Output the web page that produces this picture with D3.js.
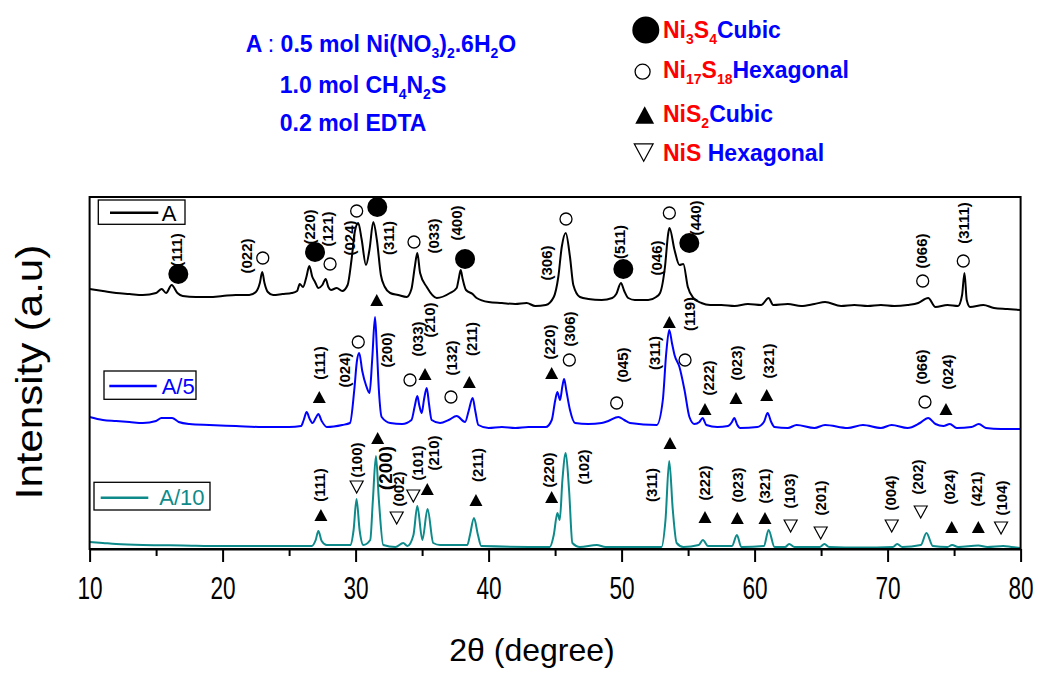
<!DOCTYPE html>
<html>
<head>
<meta charset="utf-8">
<script src="https://cdn.jsdelivr.net/npm/d3@7"></script>
<style>
  body { margin: 0; background: #fff; }
  svg { display: block; font-family: "Liberation Sans", Arial, sans-serif; }
</style>
</head>
<body>
<div id="graph-container"></div>
<script>
// XRD patterns, [2theta, intensity (a.u., stacked)]
const seriesA = [[10,260],[11,258],[12,256],[13,255],[14,254],[15,256],[15.42,260],[15.75,256],[16.17,264],[16.6,256],[17,253],[18,252],[19,252],[20,253],[21,254],[22,254],[22.5,257],[22.8,266],[22.98,277],[23.15,266],[23.4,257],[23.8,254],[24.5,255],[25.2,256],[25.6,258],[25.8,265],[26.05,262],[26.3,272],[26.52,283],[26.75,272],[26.95,267],[27.2,261],[27.5,264],[27.75,270],[27.95,262],[28.15,259],[28.58,261],[29.0,258],[29.4,264],[29.7,290],[29.95,318],[30.2,326],[30.45,310],[30.78,284],[31.05,300],[31.33,327],[31.6,309],[31.9,274],[32.2,262],[32.6,256],[33.2,254],[33.84,252],[34.2,260],[34.45,282],[34.64,296],[34.85,276],[35.35,262],[36.1,251],[37.1,256],[37.6,261],[37.75,270],[37.9,279],[38.05,270],[38.3,259],[38.8,255],[39.1,251],[40,247],[41,246],[42,245],[42.86,246],[43.5,243],[44.3,244],[44.9,252],[45.24,272],[45.5,302],[45.8,316],[46.12,292],[46.37,264],[46.87,252],[47.5,250],[48.5,249],[49.3,251],[49.6,255],[49.95,266],[50.2,258],[50.5,251],[51,249],[52,249],[52.6,252],[52.89,256],[53.26,282],[53.51,316],[53.6,321],[53.98,299],[54.35,284],[54.64,285],[54.98,262],[55.39,251],[56,246],[56.65,244],[57.5,244],[58.5,243],[59.5,245],[60.5,244],[61.05,251],[61.4,244],[62.5,245],[63.5,243],[64.5,245],[65.3,247],[66.5,243],[67.5,244],[68.5,243],[69.5,244],[70.5,243],[71.5,244],[72.3,246],[73.05,251],[73.6,242],[74.5,244],[75.3,243],[75.6,254],[75.78,276],[75.95,249],[76.2,242],[77.2,244],[78,241],[79,240],[80,239]];

const seriesA5 = [[10,132],[11,129],[12,128],[13,127],[14,126],[15,128],[15.4,131],[16.2,131],[16.7,127],[17.5,125],[19,124],[21,123],[23,122],[25,122],[25.9,123],[26.1,129],[26.32,137],[26.55,130],[26.77,126],[27.0,131],[27.2,135],[27.45,128],[27.83,122],[29.0,124],[29.58,126],[29.9,159],[30.1,188],[30.27,196],[30.5,178],[30.8,163],[31.05,156],[31.25,190],[31.46,232],[31.6,200],[31.75,159],[31.96,132],[32.6,126],[33.5,125],[34.2,129],[34.45,143],[34.64,153],[34.8,143],[34.97,136],[35.15,150],[35.35,161],[35.52,145],[35.72,129],[36.35,126],[37.0,129],[37.6,133],[38.23,127],[38.5,138],[38.8,151],[39.0,138],[39.23,124],[40,121],[41,122],[42,121],[43,122],[44.3,122],[44.75,129],[45.0,148],[45.17,157],[45.37,149],[45.55,163],[45.68,170],[45.85,158],[46.12,139],[46.5,126],[47.5,125],[48.5,126],[49.0,128],[49.76,132],[50.2,129],[50.63,126],[52.64,124],[53.1,149],[53.35,195],[53.58,219],[53.8,205],[53.98,194],[54.35,182],[54.73,159],[55.1,132],[55.48,125],[55.85,127],[56.09,131],[56.37,124],[57.2,122],[58.0,123],[58.3,127],[58.47,131],[58.7,124],[58.9,121],[60.2,122],[60.7,127],[60.98,136],[61.25,127],[61.5,122],[62.5,121],[63.16,124],[64.5,121],[65.3,124],[67,121],[68.15,124],[69.5,121],[70.3,124],[71.5,121],[72.43,126],[73.05,131],[73.6,125],[74.2,123],[74.68,125],[75.2,121],[76.3,122],[76.86,125],[77.4,121],[78.5,120],[80,120]];

const seriesA10 = [[10,7],[11,6],[12,5],[14,4],[17,3.5],[20,3],[24,3],[26.7,3],[27.0,9],[27.2,18],[27.45,8],[27.83,4],[29.6,4],[29.85,19],[30.07,50],[30.3,19],[30.58,4],[31.1,9],[31.3,49],[31.53,93],[31.75,49],[32.08,4],[33.0,2],[33.58,6],[33.9,3],[34.35,14],[34.64,43],[35.02,9],[35.41,40],[35.84,6],[36.35,4],[38.4,4],[38.6,14],[38.9,31],[39.2,14],[39.45,3],[44.6,2],[44.9,14],[45.17,36],[45.35,29],[45.55,69],[45.8,96],[46.05,59],[46.3,6],[46.87,2],[48.13,4],[48.8,2],[53.0,2],[53.3,29],[53.58,88],[53.85,39],[54.14,6],[54.64,2],[55.8,4],[56.11,9],[56.5,3],[58.3,3],[58.67,14],[59.0,2],[60.7,3],[61.05,19],[61.5,2],[62.3,2],[62.6,5],[63.0,2],[64.9,2],[65.25,5],[65.6,2],[68,1.5],[70.4,2],[70.72,5],[71.1,2],[72.5,4],[72.92,16],[73.4,3],[74.5,2],[74.85,4],[75.3,2],[76.82,3.5],[77.5,2],[78.7,3],[79.3,2],[80,1]];

// phase markers: [2theta, level, phase]
const markA = [[16.67,275,"Ni3S4"],[26.95,297,"Ni3S4"],[31.63,342,"Ni3S4"],[38.23,290,"Ni3S4"],[50.13,280,"Ni3S4"],[55.09,306,"Ni3S4"],
  [23.02,291,"Ni17S18"],[28.08,285,"Ni17S18"],[30.08,338,"Ni17S18"],[34.39,307,"Ni17S18"],[45.82,330,"Ni17S18"],[53.59,336,"Ni17S18"],[72.64,268,"Ni17S18"],[75.69,288,"Ni17S18"]];
const markA5 = [[31.59,249,"NiS2"],[27.27,152,"NiS2"],[35.22,175,"NiS2"],[38.55,167,"NiS2"],[44.74,176,"NiS2"],[53.59,227,"NiS2"],[56.27,140,"NiS2"],[58.6,151,"NiS2"],[60.91,154,"NiS2"],[74.39,140,"NiS2"],
  [30.2,207,"Ni17S18"],[34.09,169,"Ni17S18"],[37.17,152,"Ni17S18"],[46.07,189,"Ni17S18"],[49.63,146,"Ni17S18"],[54.77,189,"Ni17S18"],[72.81,147,"Ni17S18"]];
const markA10 = [[27.39,34,"NiS2"],[31.66,111,"NiS2"],[35.39,60,"NiS2"],[39.05,49,"NiS2"],[44.74,52,"NiS2"],[53.64,106,"NiS2"],[56.27,32,"NiS2"],[58.7,31,"NiS2"],[60.78,31,"NiS2"],[74.82,22,"NiS2"],[76.82,22,"NiS2"],
  [30.08,62,"NiS"],[33.09,31,"NiS"],[34.34,53,"NiS"],[62.71,23,"NiS"],[64.97,16,"NiS"],[70.31,23,"NiS"],[72.49,37,"NiS"],[78.53,21,"NiS"]];

// (hkl) labels: [2theta, level, text]
const hklA = [[16.55,299,"(111)"],[21.81,293,"(022)"],[26.52,322,"(220)"],[27.87,320,"(121)"],[29.53,311,"(024)"],[32.53,311,"(311)"],[35.84,313,"(033)"],[37.6,326,"(400)"],[44.37,286,"(306)"],[49.88,307,"(511)"],[52.64,291,"(046)"],[55.59,331,"(440)"],[72.56,298,"(066)"],[75.69,326,"(3111)"]];
const hklA5 = [[27.32,186,"(111)"],[29.2,179,"(024)"],[32.34,199,"(200)"],[34.71,210,"(033)"],[35.54,229,"(210)"],[37.23,191,"(132)"],[38.73,210,"(211)"],[44.62,207,"(220)"],[46.12,220,"(306)"],[50.08,184,"(045)"],[52.51,196,"(311)"],[55.11,235,"(119)"],[56.52,171,"(222)"],[58.65,186,"(023)"],[61.1,188,"(321)"],[72.56,182,"(066)"],[74.56,177,"(024)"]];
const hklA10 = [[27.32,64,"(111)"],[30.08,89,"(100)"],[32.21,81,"(200)"],[33.21,60,"(002)"],[34.71,86,"(101)"],[35.84,96,"(210)"],[39.15,84,"(211)"],[44.56,79,"(220)"],[47.12,82,"(102)"],[52.26,64,"(311)"],[56.27,66,"(222)"],[58.77,64,"(023)"],[60.78,63,"(321)"],[62.61,58,"(103)"],[64.97,51,"(201)"],[70.23,56,"(004)"],[72.23,72,"(202)"],[74.69,62,"(024)"],[76.7,60,"(421)"],[78.58,51,"(104)"]];

const xTicks = [10, 20, 30, 40, 50, 60, 70, 80];
const xMinorTicks = [15, 25, 35, 45, 55, 65, 75];

// Set up SVG canvas
const svgWidth = 1038;
const svgHeight = 673;
const margin = { top: 197, right: 17.4, bottom: 124, left: 89.6 };
const width = svgWidth - margin.left - margin.right;
const height = svgHeight - margin.top - margin.bottom;

const BLUE = "#0000ff", RED = "#ff0000", TEAL = "#0e8a8a";

const svg = d3.select("#graph-container").append("svg")
    .attr("width", svgWidth)
    .attr("height", svgHeight);

svg.append("rect").attr("width", svgWidth).attr("height", svgHeight).attr("fill", "#fff");

const g = svg.append("g")
    .attr("transform", `translate(${margin.left}, ${margin.top})`);

const x = d3.scaleLinear().domain([10, 80]).range([0, width]);
const y = d3.scaleLinear().domain([0, 352]).range([height, 0]);

// traces
const line = d3.line()
    .x(d => x(d[0]))
    .y(d => y(d[1]))
    .curve(d3.curveMonotoneX);

[[seriesA, "#000"], [seriesA5, BLUE], [seriesA10, TEAL]].forEach(([data, color]) => {
    g.append("path")
        .datum(data)
        .attr("fill", "none")
        .attr("stroke", color)
        .attr("stroke-width", 2)
        .attr("stroke-linejoin", "round")
        .attr("d", line);
});

// frame
g.append("rect")
    .attr("width", width)
    .attr("height", height)
    .attr("fill", "none")
    .attr("stroke", "#000")
    .attr("stroke-width", 2);

// X axis
g.append("g")
    .attr("transform", `translate(0, ${height})`)
    .call(d3.axisBottom(x).tickValues(xTicks).tickSize(13).tickSizeOuter(0).tickPadding(15))
    .call(a => a.select(".domain").attr("stroke-width", 2))
    .call(a => a.selectAll(".tick line").attr("stroke-width", 2))
    .call(a => a.selectAll(".tick text")
        .attr("font-size", 31)
        .attr("font-family", "Liberation Sans, Arial, sans-serif")
        .attr("fill", "#000")
        .attr("transform", "scale(0.73,1)"));

g.append("g")
    .attr("transform", `translate(0, ${height})`)
    .call(d3.axisBottom(x).tickValues(xMinorTicks).tickSize(7).tickSizeOuter(0).tickFormat(""))
    .call(a => a.select(".domain").remove())
    .call(a => a.selectAll(".tick line").attr("stroke-width", 2));

// axis titles
svg.append("text")
    .attr("transform", "translate(532, 661)")
    .attr("text-anchor", "middle")
    .attr("font-size", 32)
    .text("2θ (degree)");

svg.append("text")
    .attr("transform", "translate(29, 372) rotate(-90) scale(1, 0.86)")
    .attr("text-anchor", "middle")
    .attr("dy", "0.35em")
    .attr("font-size", 42)
    .text("Intensity (a.u)");

// marker shapes
function drawMarker(sel, phase, big) {
    const k = big ? 1.45 : 1;
    if (phase === "Ni3S4") {
        sel.append("circle").attr("r", 10 * (big ? 1.35 : 1)).attr("fill", "#000");
    } else if (phase === "Ni17S18") {
        sel.append("circle").attr("r", 6 * (big ? 1.25 : 1)).attr("fill", "#fff").attr("stroke", "#000").attr("stroke-width", 1.3);
    } else if (phase === "NiS2") {
        const w = 13 * k, h = 12 * k;
        sel.append("path").attr("d", `M0,${-h / 2}L${w / 2},${h / 2}L${-w / 2},${h / 2}Z`).attr("fill", "#000");
    } else {
        const w = 13 * k, h = 12 * k;
        sel.append("path").attr("d", `M${-w / 2},${-h / 2}L${w / 2},${-h / 2}L0,${h / 2}Z`)
            .attr("fill", "#fff").attr("stroke", "#000").attr("stroke-width", 1.2);
    }
}

[markA, markA5, markA10].forEach(marks => {
    marks.forEach(d => {
        const m = g.append("g").attr("transform", `translate(${x(d[0])}, ${y(d[1])})`);
        drawMarker(m, d[2], false);
    });
});

[hklA, hklA5, hklA10].forEach((labels, si) => {
    labels.forEach(d => {
        const big = si === 2 && d[2] === "(200)";
        g.append("text")
            .attr("transform", `translate(${x(d[0])}, ${y(d[1])}) rotate(-90)`)
            .attr("text-anchor", "middle")
            .attr("dy", "0.35em")
            .attr("font-size", big ? 19 : 15)
            .attr("font-weight", "bold")
            .text(d[2]);
    });
});

// in-plot series legends
const seriesLegend = [
    { name: "A", color: "#000", box: [98.3, 200, 86.7, 24.3], line: [110, 158.3, 212.7], text: [161.7, 220.5] },
    { name: "A/5", color: BLUE, box: [104, 371, 92, 28.3], line: [109.3, 156.7, 386], text: [161.7, 393.5] },
    { name: "A/10", color: TEAL, box: [94, 482.3, 116, 27.7], line: [100.7, 148.3, 497.7], text: [159.3, 505] }
];
seriesLegend.forEach(l => {
    svg.append("rect")
        .attr("x", l.box[0]).attr("y", l.box[1]).attr("width", l.box[2]).attr("height", l.box[3])
        .attr("fill", "#fff").attr("stroke", "#000").attr("stroke-width", 1.3);
    svg.append("line")
        .attr("x1", l.line[0]).attr("x2", l.line[1]).attr("y1", l.line[2]).attr("y2", l.line[2])
        .attr("stroke", l.color).attr("stroke-width", 2.5);
    svg.append("text")
        .attr("x", l.text[0]).attr("y", l.text[1])
        .attr("font-size", 22)
        .attr("fill", l.color)
        .text(l.name);
});

// precursor text (top left)
function richText(xp, yp, parts) {
    const t = svg.append("text")
        .attr("x", xp).attr("y", yp)
        .attr("font-size", 23)
        .attr("font-weight", "bold");
    parts.forEach(p => {
        const s = t.append("tspan").attr("fill", p.c).text(p.t);
        if (p.sub) s.attr("font-size", 14).attr("dy", 6);
        else if (p.after) s.attr("dy", -6);
        if (p.w) s.attr("font-weight", p.w);
    });
    return t;
}

richText(245.7, 51.7, [
    { t: "A ", c: BLUE }, { t: ":", c: BLUE, w: "normal" }, { t: " 0.5 mol Ni(NO", c: BLUE },
    { t: "3", c: BLUE, sub: true }, { t: ")", c: BLUE, after: true }, { t: "2", c: BLUE, sub: true },
    { t: ".6H", c: BLUE, after: true }, { t: "2", c: BLUE, sub: true }, { t: "O", c: BLUE, after: true }
]);
richText(279.8, 93, [
    { t: "1.0 mol CH", c: BLUE }, { t: "4", c: BLUE, sub: true }, { t: "N", c: BLUE, after: true },
    { t: "2", c: BLUE, sub: true }, { t: "S", c: BLUE, after: true }
]);
richText(279.8, 131, [{ t: "0.2 mol EDTA", c: BLUE }]);

// phase legend (top right)
const phaseLegend = [
    { phase: "Ni3S4", cx: 645.8, cy: 30, y: 37.5, parts: [{ t: "Ni", c: RED }, { t: "3", c: RED, sub: true }, { t: "S", c: RED, after: true }, { t: "4", c: RED, sub: true }, { t: "Cubic", c: BLUE, after: true }] },
    { phase: "Ni17S18", cx: 642.6, cy: 71.7, y: 78, parts: [{ t: "Ni", c: RED }, { t: "17", c: RED, sub: true }, { t: "S", c: RED, after: true }, { t: "18", c: RED, sub: true }, { t: "Hexagonal", c: BLUE, after: true }] },
    { phase: "NiS2", cx: 644.7, cy: 115, y: 121.5, parts: [{ t: "Ni", c: RED }, { t: "S", c: RED }, { t: "2", c: RED, sub: true }, { t: "Cubic", c: BLUE, after: true }] },
    { phase: "NiS", cx: 643.7, cy: 152.5, y: 161, parts: [{ t: "NiS", c: RED }, { t: " Hexagonal", c: BLUE }] }
];
phaseLegend.forEach(p => {
    const m = svg.append("g").attr("transform", `translate(${p.cx}, ${p.cy})`);
    drawMarker(m, p.phase, true);
    richText(663, p.y, p.parts);
});
</script>
</body>
</html>
